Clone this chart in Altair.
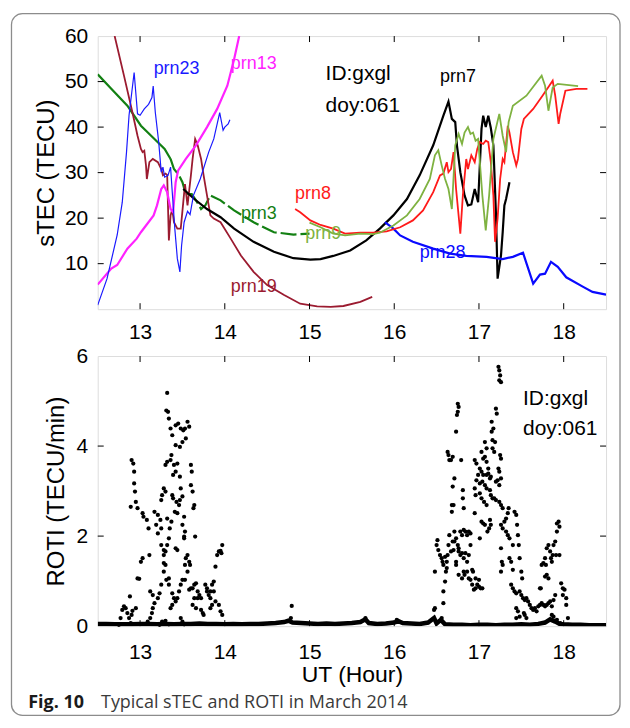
import altair as alt
import pandas as pd

# ---------------- data ----------------
X_DOMAIN = [12.5, 18.5]
XTICKS = [13, 14, 15, 16, 17, 18]
STEC_TICKS = [10, 20, 30, 40, 50, 60]
ROTI_TICKS = [0, 2, 4, 6]

PRN23_T = [12.50, 12.61, 12.73, 12.79, 12.84, 12.87, 12.93, 12.97, 13.00, 13.05, 13.10, 13.14, 13.155, 13.18, 13.22, 13.25,
           13.27, 13.29, 13.33, 13.36, 13.38, 13.41, 13.44, 13.47, 13.49, 13.52, 13.56, 13.59, 13.63, 13.71, 13.81, 13.87,
           13.94, 13.98, 14.00, 14.04, 14.06]
PRN23_V = [0.9, 6.7, 16.3, 23.5, 34.5, 42.6, 52.0, 42.9, 42.6, 44.0, 45.0, 46.5, 49.0, 43.2, 36.7, 30.1,
           31.2, 29.0, 29.4, 31.2, 25.7, 17.7, 11.1, 8.2, 14.0, 19.1, 21.5, 20.8, 25.0, 28.6, 34.5, 37.4,
           43.2, 39.3, 40.0, 40.7, 41.6]

PRN13_T = [12.50, 12.66, 12.73, 12.85, 12.96, 13.01, 13.16, 13.20, 13.25, 13.28, 13.32, 13.36, 13.39, 13.42, 13.45,
           13.54, 13.66, 13.79, 13.91, 14.03, 14.11, 14.17]
PRN13_V = [5.4, 8.9, 9.7, 13.3, 15.5, 16.9, 20.6, 22.8, 26.4, 27.2, 25.7, 22.0, 21.3, 27.9, 30.5,
           33.0, 36.0, 40.0, 44.0, 49.1, 54.9, 60.0]

PRN3_T = [12.50, 12.66, 12.85, 13.01, 13.17, 13.29, 13.36, 13.40, 13.46, 13.50, 13.54, 13.61, 13.66, 13.72, 13.77,
          13.83, 13.95, 14.11, 14.34, 14.58, 14.81, 15.00]
PRN3_V = [51.6, 48.4, 44.7, 40.3, 37.4, 35.2, 33.0, 30.8, 29.4, 27.9, 25.3, 25.3, 23.9, 22.0, 22.8,
          25.0, 23.9, 21.7, 19.1, 16.9, 16.4, 16.6]

PRN19_T = [12.70, 12.81, 12.91, 12.97, 13.01, 13.03, 13.05, 13.07, 13.08, 13.11, 13.15, 13.21, 13.25, 13.27, 13.30,
           13.32, 13.34, 13.36, 13.38, 13.40, 13.44, 13.48, 13.51, 13.53, 13.56, 13.60, 13.62, 13.65, 13.68, 13.72,
           13.75, 13.79, 13.83, 13.87, 13.95, 14.07, 14.19, 14.34, 14.50, 14.70, 14.89, 15.09, 15.25, 15.40, 15.60, 15.74]
PRN19_V = [60.0, 51.3, 43.2, 38.1, 35.2, 34.5, 34.8, 31.6, 28.6, 32.3, 33.0, 32.3, 30.8, 29.4, 29.8,
           29.5, 15.1, 20.6, 21.9, 19.1, 17.7, 17.7, 23.5, 27.5, 22.8, 29.4, 33.0, 37.4, 36.0, 33.0,
           29.4, 25.0, 20.6, 19.9, 19.1, 15.5, 11.8, 8.2, 5.3, 3.1, 1.2, 0.6, 0.5, 0.7, 1.6, 2.7]

PRN7_T = [13.51, 13.64, 13.79, 13.95, 14.11, 14.34, 14.58, 14.81, 15.01, 15.13, 15.28, 15.48, 15.67, 15.83, 15.99,
          16.15, 16.30, 16.46, 16.58, 16.64, 16.68, 16.72, 16.74, 16.78, 16.83, 16.87, 16.91, 16.95, 16.99, 17.03,
          17.05, 17.08, 17.11, 17.14, 17.17, 17.20, 17.22, 17.26, 17.28, 17.30, 17.32, 17.36]
PRN7_V = [26.4, 24.2, 22.0, 20.2, 17.7, 14.8, 12.6, 11.2, 10.9, 11.0, 11.7, 12.9, 15.1, 17.7, 20.6,
          24.2, 29.4, 36.0, 42.5, 45.6, 41.8, 41.1, 36.0, 30.1, 25.0, 22.8, 23.0, 26.4, 23.5, 39.6,
          42.5, 40.0, 42.5, 39.8, 36.0, 21.3, 6.7, 11.8, 16.9, 22.8, 24.2, 27.9]

PRN8_T = [14.83, 14.89, 15.01, 15.13, 15.28, 15.42, 15.60, 15.75, 15.91, 16.07, 16.22, 16.34, 16.46, 16.54, 16.58,
          16.62, 16.64, 16.67, 16.70, 16.73, 16.78, 16.81, 16.85, 16.87, 16.91, 16.95, 16.98, 17.01, 17.05, 17.08,
          17.11, 17.14, 17.17, 17.19, 17.22, 17.25, 17.28, 17.30, 17.34, 17.36, 17.40, 17.44, 17.46, 17.50, 17.53,
          17.64, 17.75, 17.83, 17.87, 17.90, 17.94, 17.96, 18.02, 18.15, 18.28]
PRN8_V = [22.0, 21.3, 19.5, 18.5, 17.7, 16.6, 16.8, 16.8, 17.1, 18.0, 19.5, 21.7, 25.7, 29.4, 29.8,
          32.3, 30.1, 30.8, 34.5, 26.4, 16.6, 25.0, 33.0, 30.8, 33.8, 32.3, 35.2, 36.7, 36.3, 37.0,
          36.7, 32.3, 25.0, 14.8, 19.9, 28.6, 33.0, 32.3, 40.3, 38.8, 34.5, 31.6, 33.0, 39.6, 41.8,
          44.0, 46.9, 49.1, 50.2, 46.9, 40.7, 43.0, 48.0, 48.4, 48.4]

PRN9_T = [15.00, 15.13, 15.28, 15.42, 15.60, 15.75, 15.83, 15.99, 16.15, 16.30, 16.42, 16.48, 16.52, 16.56, 16.60,
          16.64, 16.68, 16.72, 16.76, 16.80, 16.83, 16.87, 16.90, 16.93, 16.96, 16.99, 17.04, 17.08, 17.12, 17.17,
          17.24, 17.28, 17.32, 17.35, 17.40, 17.56, 17.74, 17.78, 17.82, 17.87, 17.93, 18.17]
PRN9_V = [19.0, 18.0, 16.6, 16.2, 16.6, 16.5, 16.8, 18.4, 20.6, 24.2, 28.6, 33.8, 34.9, 31.6, 28.6,
          26.4, 22.0, 36.0, 38.5, 36.3, 38.8, 40.0, 38.5, 38.8, 37.0, 37.4, 25.0, 17.3, 25.0, 37.4,
          42.9, 38.1, 34.5, 41.1, 44.7, 46.9, 51.3, 49.1, 43.6, 48.7, 49.5, 49.0]

PRN28_T = [15.89, 15.99, 16.07, 16.22, 16.46, 16.66, 16.85, 17.09, 17.28, 17.40, 17.52, 17.56, 17.64, 17.72, 17.78,
           17.85, 17.93, 18.03, 18.23, 18.34, 18.50]
PRN28_V = [19.1, 17.7, 16.2, 14.8, 13.3, 12.2, 11.7, 11.5, 11.0, 11.5, 12.4, 10.1, 5.6, 7.6, 7.8,
           10.4, 9.3, 7.0, 4.9, 3.8, 3.2]

# series: name, times, values, colour, line width
SERIES = [
    ("prn19", PRN19_T, PRN19_V, "#9b1b30", 1.8),
    ("prn13", PRN13_T, PRN13_V, "#ff22ff", 2.2),
    ("prn7", PRN7_T, PRN7_V, "#000000", 2.2),
    ("prn28", PRN28_T, PRN28_V, "#0a0aff", 2.2),
    ("prn8", PRN8_T, PRN8_V, "#ff1a1a", 1.8),
    ("prn9", PRN9_T, PRN9_V, "#7fb241", 1.8),
    ("prn23", PRN23_T, PRN23_V, "#1a1aff", 1.2),
]

# curve labels: text, UT, sTEC (baseline-left anchor), colour
CURVE_LABELS = [
    ("prn23", 13.16, 51.6, "#1a1aff"),
    ("prn13", 14.07, 52.7, "#ff22ff"),
    ("prn3", 14.19, 19.9, "#138013"),
    ("prn19", 14.07, 3.8, "#9b1b30"),
    ("prn8", 14.83, 24.2, "#ff1a1a"),
    ("prn9", 14.95, 15.5, "#7fb241"),
    ("prn7", 16.54, 50.0, "#000000"),
    ("prn28", 16.30, 11.2, "#0a0aff"),
]
ID_TEXT = ["ID:gxgl", "doy:061"]
TOP_ID_POS = [(15.19, 50.3), (15.19, 43.3)]
BOT_ID_POS = [(17.52, 4.92), (17.52, 4.25)]

ROTI_SCATTER = [
    (12.90, 3.69), (12.92, 3.61), (12.93, 3.43), (12.93, 3.17), (12.94, 2.99), (12.95, 2.76), (12.89, 2.65),
    (12.97, 2.62), (13.03, 2.51), (13.04, 2.43), (13.08, 2.36), (13.10, 2.17), (13.17, 2.54), (13.21, 2.47),
    (13.24, 2.36), (13.19, 2.25), (13.21, 2.06), (13.25, 2.17), (13.25, 1.80), (13.28, 1.69), (13.28, 1.58),
    (13.30, 1.36), (13.28, 1.21), (13.31, 1.03), (13.25, 0.92), (13.23, 0.73), (13.21, 0.62), (13.17, 0.51),
    (13.15, 0.40), (13.14, 0.29), (13.12, 0.18), (13.09, 0.10), (12.91, 0.34), (12.95, 0.40), (12.90, 0.25),
    (12.88, 0.66), (12.97, 1.06), (12.99, 1.05), (13.01, 1.43), (13.03, 1.51), (13.11, 1.58), (13.12, 0.77),
    (13.15, 0.69),
    (12.75, 0.03), (12.77, 0.18), (12.79, 0.36), (12.81, 0.44), (12.83, 0.40), (12.85, 0.29), (12.87, 0.18),
    (12.89, 0.07), (13.23, 0.03), (13.26, 0.10), (13.30, 0.12), (13.34, 0.04),
    (13.32, 5.18), (13.31, 4.79), (13.33, 4.76), (13.34, 4.61), (13.36, 4.39), (13.38, 4.24), (13.42, 4.46),
    (13.45, 4.50), (13.48, 4.39), (13.51, 4.35), (13.53, 4.39), (13.56, 4.54), (13.58, 4.43), (13.54, 4.17),
    (13.50, 4.09), (13.47, 3.98), (13.42, 4.02), (13.37, 3.80), (13.36, 3.69), (13.32, 3.65), (13.30, 3.58),
    (13.40, 3.58), (13.44, 3.61), (13.42, 3.43), (13.39, 3.36), (13.47, 3.32), (13.60, 3.58), (13.61, 3.43),
    (13.60, 3.13), (13.62, 2.99), (13.64, 2.69), (13.63, 2.62), (13.65, 1.99), (13.28, 3.06), (13.30, 2.99),
    (13.26, 2.91), (13.25, 2.80), (13.38, 2.91), (13.39, 2.84), (13.43, 2.76), (13.41, 2.54), (13.44, 2.51),
    (13.48, 3.06), (13.50, 2.88), (13.47, 2.80), (13.46, 2.69), (13.52, 2.43), (13.53, 2.10), (13.52, 1.99),
    (13.50, 2.25), (13.52, 1.95), (13.35, 2.17), (13.37, 2.32), (13.32, 2.39), (13.34, 1.95), (13.32, 1.80),
    (13.42, 1.73), (13.44, 1.69), (13.30, 1.66), (13.28, 1.40), (13.34, 1.06), (13.34, 0.92), (13.38, 0.73),
    (13.40, 0.62), (13.36, 0.40), (13.38, 0.47), (13.42, 0.55), (13.44, 0.62), (13.46, 0.77), (13.48, 0.92),
    (13.50, 1.03), (13.53, 1.03), (13.53, 1.36), (13.54, 1.51), (13.56, 1.58), (13.58, 1.43), (13.59, 1.36),
    (13.56, 1.21), (13.60, 0.84), (13.58, 0.81), (13.62, 0.84), (13.64, 0.92), (13.66, 0.95), (13.68, 0.77),
    (13.70, 0.69), (13.72, 0.62), (13.68, 0.62), (13.64, 0.62), (13.62, 0.47), (13.66, 0.40), (13.72, 0.36),
    (13.74, 0.29), (13.75, 0.25), (13.79, 0.77), (13.81, 0.69), (13.83, 0.62), (13.83, 0.77), (13.85, 0.92),
    (13.87, 0.99), (13.87, 0.77), (13.77, 0.92), (13.79, 0.84), (13.85, 0.47), (13.83, 0.40), (13.89, 0.55),
    (13.93, 0.47), (13.95, 0.33), (13.97, 0.25), (13.48, 0.18), (13.50, 0.10), (13.52, 0.04),
    (13.89, 1.32), (13.91, 1.58), (13.93, 1.66), (13.95, 1.67), (13.97, 1.80), (13.96, 1.62),
    (14.79, 0.45), (14.78, 0.18), (15.66, 0.18), (16.03, 0.14), (16.48, 0.40), (16.56, 0.18),
    (16.48, 1.21), (16.47, 0.36), (16.50, 1.80), (16.51, 1.91), (16.52, 1.69), (16.54, 1.58), (16.56, 1.51),
    (16.57, 1.43), (16.58, 1.36), (16.58, 0.77), (16.60, 0.99), (16.58, 0.51), (16.60, 1.54), (16.62, 1.43),
    (16.62, 1.29), (16.61, 1.21), (16.63, 1.58), (16.64, 1.80), (16.65, 2.02), (16.63, 3.87), (16.64, 3.80),
    (16.65, 3.69), (16.67, 3.69), (16.69, 3.76), (16.71, 3.28), (16.69, 3.10), (16.68, 2.69), (16.68, 2.54),
    (16.70, 2.69), (16.71, 2.10), (16.69, 1.88), (16.70, 1.69), (16.73, 1.43), (16.67, 1.66), (16.75, 4.94),
    (16.76, 4.87), (16.75, 4.76), (16.74, 4.69), (16.73, 4.32), (16.79, 3.69), (16.81, 3.02), (16.81, 2.84),
    (16.82, 2.62), (16.71, 1.88), (16.73, 1.95), (16.75, 1.80), (16.76, 1.73), (16.78, 2.10), (16.80, 2.02),
    (16.82, 2.14), (16.84, 2.10), (16.86, 2.02), (16.88, 2.10), (16.90, 2.06), (16.76, 1.66), (16.78, 1.58),
    (16.80, 1.62), (16.82, 1.51), (16.84, 1.62), (16.86, 1.43), (16.88, 1.58), (16.90, 1.80), (16.92, 1.25),
    (16.93, 1.21), (16.86, 1.21), (16.88, 1.06), (16.90, 1.03), (16.92, 0.92), (16.94, 0.81), (16.96, 0.84),
    (16.98, 0.92), (17.00, 0.88), (17.02, 0.84), (17.04, 0.84), (16.96, 1.06), (17.00, 1.03), (16.76, 1.14),
    (16.80, 1.06), (16.82, 1.21), (16.73, 1.36), (16.83, 1.14),
    (17.23, 5.76), (17.24, 5.68), (17.25, 5.57), (17.24, 5.46), (17.26, 5.42), (17.20, 4.83), (17.21, 4.72),
    (17.15, 4.54), (17.17, 4.39), (17.15, 4.32), (17.16, 4.13), (17.19, 4.09), (17.07, 4.09), (17.09, 3.95),
    (17.16, 3.95), (17.18, 3.87), (17.25, 3.80), (17.26, 3.72), (16.95, 3.69), (16.97, 3.61), (17.03, 3.87),
    (17.05, 3.72), (17.07, 3.76), (17.09, 3.65), (17.11, 3.50), (17.01, 3.50), (17.03, 3.43), (16.99, 3.36),
    (17.05, 3.36), (17.09, 3.36), (17.11, 3.39), (17.13, 3.28), (17.14, 3.32), (17.23, 3.50), (17.24, 3.43),
    (17.26, 3.28), (17.22, 3.24), (17.20, 3.21), (17.24, 3.13), (16.97, 3.24), (17.01, 3.17), (17.04, 3.21),
    (17.07, 3.13), (17.09, 3.06), (17.13, 3.02), (17.14, 2.91), (17.16, 2.84), (17.18, 2.84), (17.20, 2.80),
    (16.95, 3.06), (16.96, 2.91), (17.01, 2.95), (17.03, 2.84), (17.06, 2.76), (17.09, 2.69), (17.24, 2.76),
    (17.26, 2.69), (17.28, 2.62), (16.95, 2.51), (17.03, 2.32), (17.05, 2.28), (17.07, 2.25), (17.13, 2.36),
    (17.14, 2.25), (17.12, 2.17), (17.10, 2.10), (17.01, 1.95),
    (17.26, 2.25), (17.28, 2.17), (17.30, 2.32), (17.32, 2.39), (17.34, 2.51), (17.35, 2.62), (17.32, 2.10),
    (17.34, 2.02), (17.36, 1.95), (17.40, 1.80), (17.26, 1.73), (17.27, 1.43), (17.28, 1.36), (17.26, 1.21),
    (17.36, 1.51), (17.38, 1.43), (17.40, 1.25), (17.42, 2.54), (17.44, 2.47), (17.45, 2.25), (17.46, 2.02),
    (17.47, 1.80), (17.48, 1.51), (17.50, 1.21), (17.51, 1.06), (17.38, 0.92), (17.40, 0.84), (17.42, 0.77),
    (17.44, 0.73), (17.48, 0.77), (17.50, 0.69), (17.52, 0.62), (17.54, 0.58), (17.56, 0.62), (17.58, 0.55),
    (17.60, 0.47), (17.62, 0.40), (17.64, 0.36), (17.44, 0.40), (17.46, 0.33), (17.48, 0.21), (17.53, 0.29),
    (17.66, 0.40), (17.68, 0.33), (17.70, 0.44), (17.72, 0.47), (17.74, 0.51), (17.76, 0.47), (17.78, 0.44),
    (17.80, 0.47), (17.82, 0.51), (17.84, 0.55), (17.86, 0.44), (17.88, 0.58), (17.90, 0.69), (17.72, 0.84),
    (17.73, 0.84), (17.74, 1.36), (17.76, 1.40), (17.78, 1.51), (17.79, 1.36), (17.80, 1.14), (17.82, 1.06),
    (17.78, 1.10), (17.80, 1.73), (17.82, 1.80), (17.84, 1.66), (17.85, 1.51), (17.86, 1.43), (17.87, 1.58),
    (17.88, 1.80), (17.90, 1.88), (17.91, 1.58), (17.92, 2.10), (17.92, 2.28), (17.94, 2.32), (17.95, 2.21),
    (17.95, 1.58), (17.97, 0.95), (17.99, 0.84), (18.01, 0.81), (17.99, 0.69), (18.03, 0.62), (18.03, 0.47),
    (18.05, 0.18), (17.86, 0.25), (17.88, 0.21), (17.92, 0.14), (17.96, 0.07), (17.44, 0.18), (17.56, 0.18),
    (17.54, 0.25),
]

ROTI_BASE = [
    (12.50, 0.05), (12.60, 0.05), (12.70, 0.04), (12.75, 0.04), (12.90, 0.04), (13.00, 0.05), (13.10, 0.05),
    (13.20, 0.04), (13.30, 0.05), (13.40, 0.04), (13.50, 0.05), (13.60, 0.05), (13.70, 0.06), (13.80, 0.05),
    (13.90, 0.05), (14.00, 0.04), (14.10, 0.05), (14.20, 0.04), (14.30, 0.05), (14.40, 0.05), (14.50, 0.06),
    (14.60, 0.07), (14.70, 0.09), (14.75, 0.12), (14.80, 0.08), (14.90, 0.07), (15.00, 0.06), (15.10, 0.05),
    (15.20, 0.06), (15.30, 0.05), (15.40, 0.06), (15.50, 0.07), (15.60, 0.09), (15.66, 0.15), (15.70, 0.07),
    (15.80, 0.05), (15.90, 0.06), (16.00, 0.08), (16.05, 0.11), (16.10, 0.07), (16.20, 0.06), (16.30, 0.05),
    (16.40, 0.08), (16.47, 0.18), (16.50, 0.06), (16.55, 0.14), (16.60, 0.04), (16.70, 0.03), (16.80, 0.03),
    (16.90, 0.02), (17.00, 0.03), (17.10, 0.03), (17.20, 0.02), (17.30, 0.03), (17.40, 0.03), (17.50, 0.04),
    (17.60, 0.03), (17.70, 0.05), (17.78, 0.08), (17.84, 0.15), (17.90, 0.10), (17.95, 0.05), (18.00, 0.04),
    (18.10, 0.03), (18.20, 0.03), (18.30, 0.02), (18.40, 0.02), (18.50, 0.02),
]

CAPTION_BOLD = "Fig. 10"
CAPTION_TEXT = "Typical sTEC and ROTI in March 2014"

# ---------------- layout ----------------
W, H1, H2 = 510, 274, 271
FONT = "Liberation Sans"
TICK = 6

xs = alt.Scale(domain=X_DOMAIN, nice=False, zero=False)
ys1 = alt.Scale(domain=[0, 60], nice=False, zero=False)
ys2 = alt.Scale(domain=[0, 6], nice=False, zero=False)

common_axis = dict(ticks=False, tickSize=0, domain=False, grid=False, labelFont=FONT, labelFontSize=21,
                   labelColor="black", titleFont=FONT, titleColor="black", titleFontWeight="normal")

top_x_axis = alt.Axis(values=XTICKS, format="d", title=None, labelPadding=29, labelBaseline="alphabetic",
                      **common_axis)
top_y_axis = alt.Axis(values=STEC_TICKS, title="sTEC (TECU)", labelPadding=10, minExtent=33, maxExtent=33,
                      titlePadding=6, titleFontSize=24, **common_axis)
bot_x_axis = alt.Axis(values=XTICKS, format="d", title="UT (Hour)", labelPadding=32, labelBaseline="alphabetic",
                      titleFontSize=23, titleBaseline="alphabetic", titleY=56, **common_axis)
bot_y_axis = alt.Axis(values=ROTI_TICKS, title="ROTI (TECU/min)", labelPadding=10, minExtent=22, maxExtent=22,
                      titlePadding=7, titleFontSize=24, **common_axis)

X1 = lambda: alt.X("t:Q", scale=xs, axis=top_x_axis)
Y1 = lambda: alt.Y("v:Q", scale=ys1, axis=top_y_axis)
X2 = lambda: alt.X("t:Q", scale=xs, axis=bot_x_axis)
Y2 = lambda: alt.Y("v:Q", scale=ys2, axis=bot_y_axis)


def frame_ticks(xenc, yenc, yvals, h):
    xt = pd.DataFrame({"t": XTICKS})
    yt = pd.DataFrame({"v": yvals})
    return [
        alt.Chart(xt).mark_rule(color="black", strokeWidth=1).encode(x=xenc(), y=alt.value(0), y2=alt.value(TICK)),
        alt.Chart(xt).mark_rule(color="black", strokeWidth=1).encode(x=xenc(), y=alt.value(h), y2=alt.value(h - TICK)),
        alt.Chart(yt).mark_rule(color="black", strokeWidth=1).encode(y=yenc(), x=alt.value(0), x2=alt.value(TICK)),
        alt.Chart(yt).mark_rule(color="black", strokeWidth=1).encode(y=yenc(), x=alt.value(W), x2=alt.value(W - TICK)),
    ]


# ----- top panel -----
top_layers = []

# outer rounded frame of the figure (kept inside the 630x728 page)
top_layers.append(
    alt.Chart(pd.DataFrame({"a": [0]})).mark_rect(
        fill="white", fillOpacity=0, stroke="#8c8c8c", strokeWidth=1.3, cornerRadius=11
    ).encode(x=alt.value(-86.5), x2=alt.value(524), y=alt.value(-22.5), y2=alt.value(681.5))
)

prn3_df = pd.DataFrame({"t": PRN3_T, "v": PRN3_V, "i": range(len(PRN3_T))})
top_layers.append(
    alt.Chart(prn3_df).transform_filter(alt.datum.t <= 13.36).mark_line(
        color="#138013", strokeWidth=2.2, clip=True).encode(x=X1(), y=Y1(), order="i:Q")
)
top_layers.append(
    alt.Chart(prn3_df).transform_filter(alt.datum.t >= 13.36).mark_line(
        color="#138013", strokeWidth=2.2, strokeDash=[16, 4], clip=True).encode(x=X1(), y=Y1(), order="i:Q")
)

for name, ts, vs, col, sw in SERIES:
    df = pd.DataFrame({"t": ts, "v": vs, "i": range(len(ts))})
    top_layers.append(
        alt.Chart(df).mark_line(color=col, strokeWidth=sw, clip=True).encode(x=X1(), y=Y1(), order="i:Q")
    )

for txt, lt, lv, col in CURVE_LABELS:
    top_layers.append(
        alt.Chart(pd.DataFrame({"s": [txt], "t": [lt], "v": [lv]})).mark_text(
            align="left", baseline="alphabetic", font=FONT, fontSize=18, color=col).encode(
            x=X1(), y=Y1(), text="s:N")
    )

top_id = pd.DataFrame({"s": ID_TEXT, "t": [p[0] for p in TOP_ID_POS], "v": [p[1] for p in TOP_ID_POS]})
top_layers.append(
    alt.Chart(top_id).mark_text(align="left", baseline="alphabetic", font=FONT, fontSize=21, color="black").encode(
        x=X1(), y=Y1(), text="s:N")
)

top_layers += frame_ticks(X1, Y1, [10, 20, 30, 40, 50], H1)

top = alt.layer(*top_layers).properties(width=W, height=H1)

# ----- bottom panel -----
bot_layers = []
base_df = pd.DataFrame({"t": [p[0] for p in ROTI_BASE], "v": [p[1] for p in ROTI_BASE]})
bot_layers.append(
    alt.Chart(base_df).mark_line(color="black", strokeWidth=4.5, clip=True).encode(x=X2(), y=Y2())
)
sc_df = pd.DataFrame({"t": [p[0] for p in ROTI_SCATTER], "v": [p[1] for p in ROTI_SCATTER]})
bot_layers.append(
    alt.Chart(sc_df).mark_circle(color="black", size=18, opacity=1).encode(x=X2(), y=Y2())
)
bot_id = pd.DataFrame({"s": ID_TEXT, "t": [p[0] for p in BOT_ID_POS], "v": [p[1] for p in BOT_ID_POS]})
bot_layers.append(
    alt.Chart(bot_id).mark_text(align="left", baseline="alphabetic", font=FONT, fontSize=21, color="black").encode(
        x=X2(), y=Y2(), text="s:N")
)
# caption
bot_layers.append(
    alt.Chart(pd.DataFrame({"s": [CAPTION_BOLD]})).mark_text(
        align="left", baseline="alphabetic", font="Open Sans", fontSize=18, fontWeight="bold", color="#1a1a1a"
    ).encode(x=alt.value(-69.7), y=alt.value(353), text="s:N")
)
bot_layers.append(
    alt.Chart(pd.DataFrame({"s": [CAPTION_TEXT]})).mark_text(
        align="left", baseline="alphabetic", font="Open Sans", fontSize=18, color="#3a3a3a"
    ).encode(x=alt.value(3.3), y=alt.value(353), text="s:N")
)
bot_layers += frame_ticks(X2, Y2, [2, 4], H2)

bottom = alt.layer(*bot_layers).properties(width=W, height=H2)

chart = alt.vconcat(top, bottom, spacing=47, bounds="flush").properties(
    padding={"left": 2, "top": 3, "right": 0, "bottom": 0}
).configure_view(stroke="black", strokeWidth=1).configure(font=FONT)

chart.save("out.html", embed_options={"renderer": "svg", "actions": False})
